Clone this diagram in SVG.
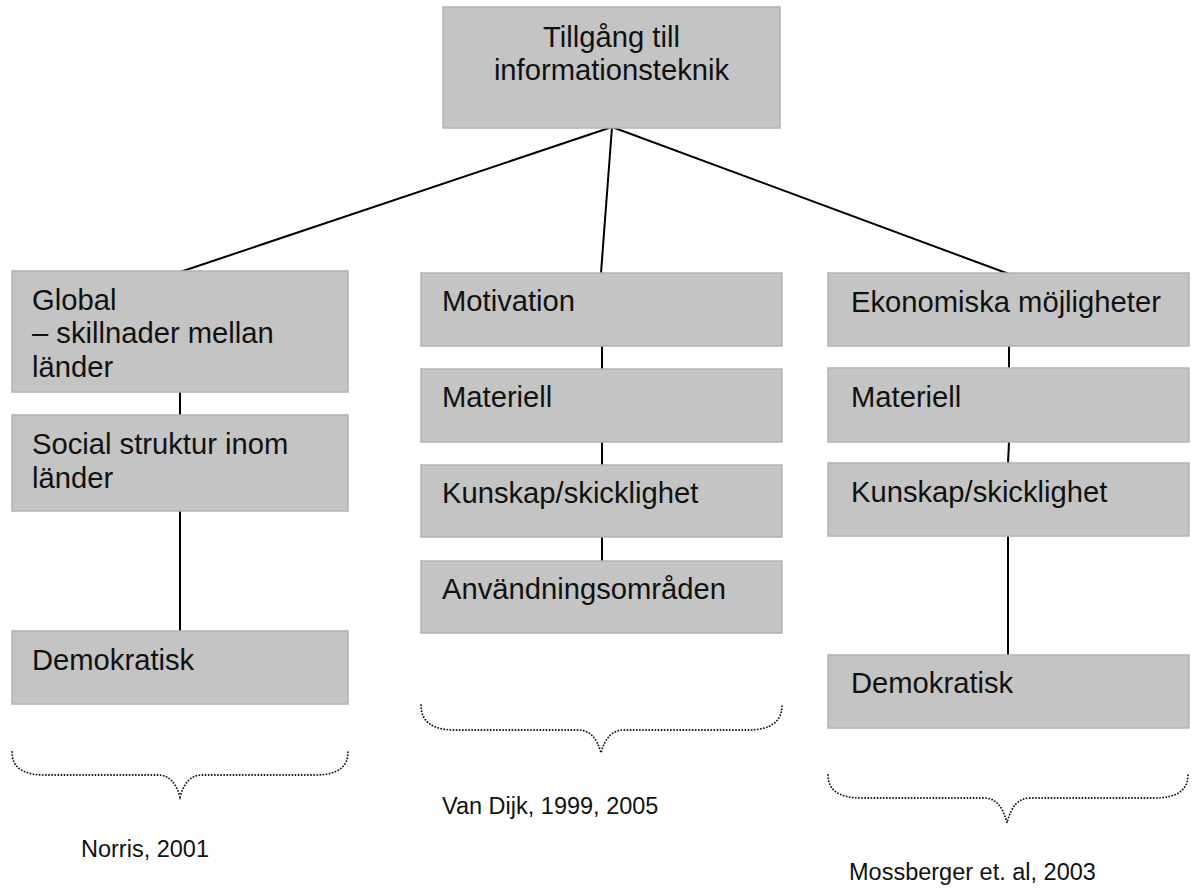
<svg xmlns="http://www.w3.org/2000/svg" width="1193" height="888" viewBox="0 0 1193 888">
<style>
.box{fill:#c4c4c4;stroke:#b2b2b2;stroke-width:1.5}
.t{font-family:"Liberation Sans",Arial,sans-serif;font-size:29.2px;fill:#111}
.c{font-family:"Liberation Sans",Arial,sans-serif;font-size:23.5px;fill:#111}
.ln{stroke:#000;stroke-width:2;fill:none}
.brace{stroke:#111;stroke-width:1.8;fill:none;stroke-dasharray:0.1 3;stroke-linecap:round}
</style>
<rect width="1193" height="888" fill="#fff"/>
<g id="connectors">
<line class="ln" x1="612" y1="127" x2="180" y2="272"/>
<line class="ln" x1="612" y1="127" x2="601" y2="273"/>
<line class="ln" x1="612" y1="127" x2="1009" y2="274"/>
<line class="ln" x1="180" y1="392" x2="180" y2="415"/>
<line class="ln" x1="180" y1="511" x2="180" y2="631"/>
<line class="ln" x1="602" y1="346" x2="602" y2="369"/>
<line class="ln" x1="602" y1="442" x2="602" y2="465"/>
<line class="ln" x1="602" y1="537" x2="602" y2="561"/>
<line class="ln" x1="1009" y1="346" x2="1009" y2="368"/>
<line class="ln" x1="1009" y1="442" x2="1008" y2="463"/>
<line class="ln" x1="1008" y1="536" x2="1008" y2="655"/>
</g>
<g id="top">
<rect class="box" x="443" y="7" width="337" height="121"/>
<text class="t" x="611.5" y="47" text-anchor="middle">Tillgång till</text>
<text class="t" x="611.5" y="80" text-anchor="middle">informationsteknik</text>
</g>
<g id="global">
<rect class="box" x="12" y="271" width="336" height="121"/>
<text class="t" x="32" y="310">Global</text>
<text class="t" x="32" y="343">– skillnader mellan</text>
<text class="t" x="32" y="377">länder</text>
</g>
<g id="social">
<rect class="box" x="12" y="415" width="336" height="96"/>
<text class="t" x="32" y="454">Social struktur inom</text>
<text class="t" x="32" y="488">länder</text>
</g>
<g id="demokratisk-left">
<rect class="box" x="12" y="631" width="336" height="73"/>
<text class="t" x="32" y="670">Demokratisk</text>
</g>
<g id="motivation">
<rect class="box" x="421" y="273" width="361" height="73"/>
<text class="t" x="442" y="311">Motivation</text>
</g>
<g id="materiell-mid">
<rect class="box" x="421" y="369" width="361" height="73"/>
<text class="t" x="442" y="407">Materiell</text>
</g>
<g id="kunskap-mid">
<rect class="box" x="421" y="465" width="361" height="72"/>
<text class="t" x="442" y="503">Kunskap/skicklighet</text>
</g>
<g id="anvandning">
<rect class="box" x="421" y="561" width="361" height="72"/>
<text class="t" x="442" y="599">Användningsområden</text>
</g>
<g id="ekonomiska">
<rect class="box" x="828" y="273" width="361" height="73"/>
<text class="t" x="851" y="312">Ekonomiska möjligheter</text>
</g>
<g id="materiell-right">
<rect class="box" x="828" y="368" width="361" height="74"/>
<text class="t" x="851" y="407">Materiell</text>
</g>
<g id="kunskap-right">
<rect class="box" x="828" y="463" width="361" height="73"/>
<text class="t" x="851" y="502">Kunskap/skicklighet</text>
</g>
<g id="demokratisk-right">
<rect class="box" x="828" y="655" width="361" height="73"/>
<text class="t" x="851" y="693">Demokratisk</text>
</g>
<g id="braces">
<path class="brace" d="M12,752 Q12,775 45,775 L158,775 Q174,775 180,797 Q186,775 202,775 L315,775 Q348,775 348,752"/>
<path class="brace" d="M421,705 Q421,730 455,730 L578,730 Q595,730 601,753 Q607,730 624,730 L748,730 Q782,730 782,705"/>
<path class="brace" d="M828,775 Q828,798 862,798 L984,798 Q1001,798 1007,823 Q1013,798 1030,798 L1154,798 Q1188,798 1188,775"/>
</g>
<g id="citations">
<text class="c" x="81" y="857">Norris, 2001</text>
<text class="c" x="442" y="814">Van Dijk, 1999, 2005</text>
<text class="c" x="849" y="880">Mossberger et. al, 2003</text>
</g>
</svg>
